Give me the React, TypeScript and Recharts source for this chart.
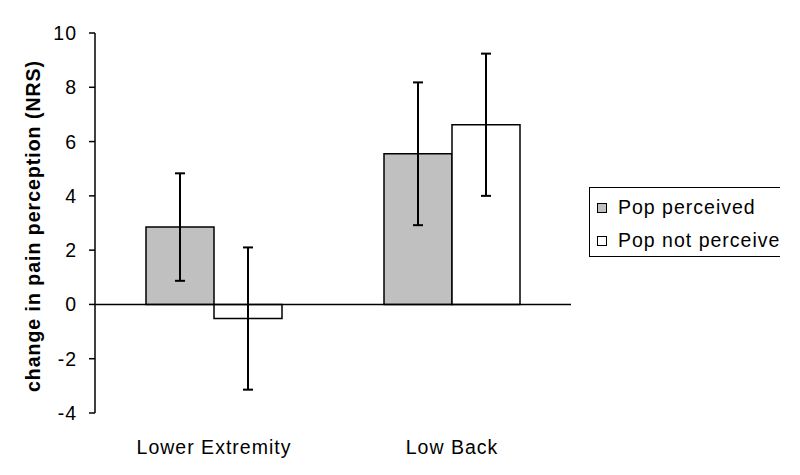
import React from 'react';
import { BarChart, Bar, XAxis, YAxis, ErrorBar, ReferenceLine, Legend } from 'recharts';

const categories = ['Lower Extremity', 'Low Back'];
const perceived = [2.85, 5.55];
const perceivedErr = [1.98, 2.63];
const notPerceived = [-0.52, 6.62];
const notPerceivedErr = [2.62, 2.62];
const yTicks = [-4, -2, 0, 2, 4, 6, 8, 10];
const seriesNames = ['Pop perceived', 'Pop not perceive'];

const data = categories.map((c, i) => ({
  name: c,
  a: perceived[i],
  aErr: perceivedErr[i],
  b: notPerceived[i],
  bErr: notPerceivedErr[i],
}));

const FONT = '"Liberation Sans", Arial, sans-serif';
const textStyle: React.CSSProperties = { fontFamily: FONT, fontSize: 19.5, letterSpacing: '1px', fill: '#000' };

const YTick = (props: any) => (
  <text x={props.x} y={props.y} dy={7} textAnchor="end" style={textStyle}>
    {props.payload.value}
  </text>
);

const XTick = (props: any) => (
  <text x={props.x} y={props.y} dy={35} textAnchor="middle" style={textStyle}>
    {props.payload.value}
  </text>
);

const YLabel = (props: any) => {
  const vb = props.viewBox || { y: 33, height: 380 };
  const cy = vb.y + vb.height / 2 + 3;
  return (
    <text
      x={40}
      y={cy}
      textAnchor="middle"
      transform={`rotate(-90, 40, ${cy})`}
      style={{ ...textStyle, fontWeight: 'bold' }}
    >
      change in pain perception (NRS)
    </text>
  );
};

const LegendContent = (props: any) => {
  const items = [...(props.payload || [])].sort(
    (p: any, q: any) => seriesNames.indexOf(p.value) - seriesNames.indexOf(q.value)
  );
  return (
    <div
      style={{
        width: 190,
        height: 68,
        borderTop: '1.5px solid #000',
        borderBottom: '1.5px solid #000',
        borderLeft: '1.5px solid #000',
        overflow: 'hidden',
        whiteSpace: 'nowrap',
        boxSizing: 'content-box',
      }}
    >
      {items.map((it: any, i: number) => (
        <div
          key={i}
          style={{
            display: 'flex',
            alignItems: 'center',
            height: 35,
            marginTop: i === 0 ? 2 : -2,
            paddingLeft: 7,
            fontFamily: FONT,
            fontSize: 19.5,
            letterSpacing: '1px',
            color: '#000',
          }}
        >
          <span
            style={{
              display: 'inline-block',
              flex: 'none',
              width: 8,
              height: 8,
              border: '1px solid #000',
              background: it.payload?.fill ?? it.color,
              marginRight: 11,
            }}
          />
          <span>{it.value}</span>
        </div>
      ))}
    </div>
  );
};

export default function App() {
  return (
    <div style={{ position: 'absolute', left: 0, top: 0, background: '#fff' }}>
      <BarChart
        width={800}
        height={475}
        data={data}
        margin={{ top: 33, right: 229, bottom: 0, left: 0 }}
        barGap={0}
        barCategoryGap="21.43%"
      >
        <XAxis
          dataKey="name"
          axisLine={false}
          tickLine={false}
          height={62}
          tickMargin={0}
          tick={<XTick />}
          interval={0}
        />
        <YAxis
          domain={[-4, 10]}
          ticks={yTicks}
          interval={0}
          width={95}
          tickSize={6}
          tickMargin={12}
          axisLine={{ stroke: '#000', strokeWidth: 1.5 }}
          tickLine={{ stroke: '#000', strokeWidth: 1.5 }}
          tick={<YTick />}
          label={<YLabel />}
        />
        <Bar dataKey="a" name={seriesNames[0]} fill="#c0c0c0" stroke="#000" strokeWidth={1.5} isAnimationActive={false}>
          <ErrorBar dataKey="aErr" width={5} stroke="#000" strokeWidth={2} direction="y" />
        </Bar>
        <Bar dataKey="b" name={seriesNames[1]} fill="#ffffff" stroke="#000" strokeWidth={1.5} isAnimationActive={false}>
          <ErrorBar dataKey="bErr" width={5} stroke="#000" strokeWidth={2} direction="y" />
        </Bar>
        <ReferenceLine y={0} stroke="#000" strokeWidth={1.5} />
        <Legend
          layout="horizontal"
          verticalAlign="middle"
          align="center"
          content={<LegendContent />}
          wrapperStyle={{ position: 'absolute', left: 589, top: 187, width: 192, height: 70 }}
        />
      </BarChart>
    </div>
  );
}
